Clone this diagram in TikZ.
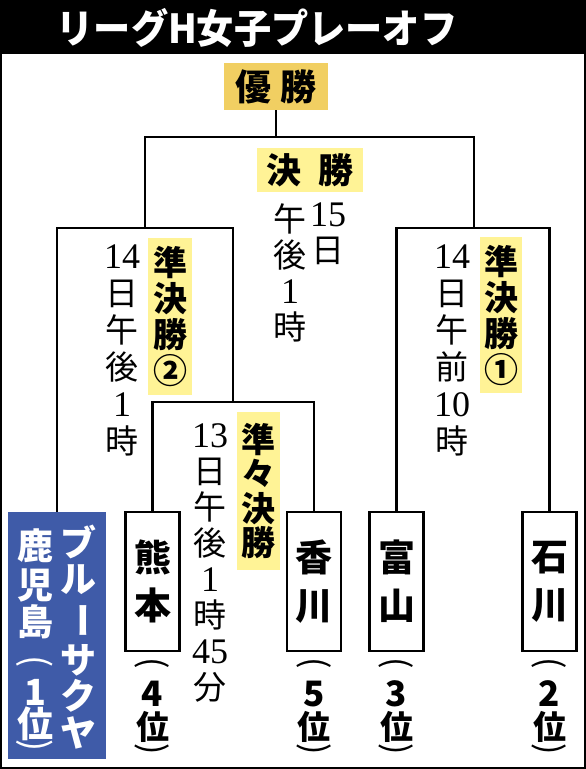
\documentclass[tikz,border=0pt]{standalone}
\usepackage{fontspec}
\newfontfamily\jp{Noto Sans CJK JP}
\newfontfamily\dgf{Liberation Serif}
\definecolor{gold}{RGB}{241,207,98}
\definecolor{lyel}{RGB}{255,243,150}
\definecolor{kblue}{RGB}{63,91,168}
\newcommand\sd[1]{{\dgf\fontsize{36}{37}\selectfont #1}}
\begin{document}
\begin{tikzpicture}[x=1pt,y=-1pt,
  conn/.style={draw=black, line width=2.2pt, line join=miter},
  titletext/.style={inner sep=0pt, text=white, font=\jp\bfseries\fontsize{40}{42}\selectfont},
  win/.style={fill=gold, minimum width=104pt, minimum height=47pt, inner sep=0pt, font=\jp\bfseries\fontsize{36}{40}\selectfont},
  lab/.style={fill=lyel, inner sep=0pt, font=\jp\bfseries\fontsize{34}{36}\selectfont, align=center},
  datea/.style={inner sep=0pt, anchor=north, align=center, font=\jp\fontsize{33}{36}\selectfont},
  dateb/.style={inner sep=0pt, anchor=north, align=center, font=\jp\fontsize{33}{37}\selectfont},
  team/.style={draw=black, line width=2.2pt, fill=white, minimum width=54pt, minimum height=139pt, inner sep=0pt, align=center, font=\jp\bfseries\fontsize{37}{48}\selectfont},
  rank/.style={inner sep=0pt, font=\jp\bfseries\fontsize{33}{36}\selectfont},
  rankp/.style={inner sep=0pt, font=\jp\fontsize{34}{36}\selectfont},
  rankd/.style={inner sep=0pt, font=\jp\bfseries\fontsize{35}{37}\selectfont},
  kw/.style={inner sep=0pt, text=white, font=\jp\bfseries\fontsize{36}{38}\selectfont},
  kp/.style={inner sep=0pt, text=white, font=\jp\fontsize{36}{38}\selectfont}
]
\useasboundingbox (0,0) rectangle (586,769);
% title bar and frame
\fill[black] (0,0) rectangle (586,54);
\draw[line width=2.2pt] (1.1,53) rectangle (584.9,767.9);
\node[titletext] (title) at (257,27.5) {\scalebox{0.93}[1]{リーグH女子プレーオフ}};

% winner and final labels
\node[win] (yusho) at (276,86.5) {優\hspace{10pt}勝};
\node[lab, minimum width=106pt, minimum height=44pt, font=\jp\bfseries\fontsize{35}{36}\selectfont] (kessho) at (310,170) {決\hspace{18pt}勝};
\node[lab, minimum width=44pt, minimum height=157pt] (sf2lab) at (170,316.5) {準\\決\\勝\\②};
\node[lab, minimum width=42pt, minimum height=156pt] (sf1lab) at (501,315) {準\\決\\勝\\①};
\node[lab, minimum width=43pt, minimum height=158pt, font=\jp\bfseries\fontsize{34}{34.5}\selectfont] (qflab) at (258.5,491) {準\\々\\決\\勝};

% dates
\node[datea] (fdl) at (290,203) {午\\後\\\sd{1}\\時};
\node[datea] (fdr) at (328,203) {\sd{15}\\日};
\node[dateb] (sf2d) at (122,245) {\sd{14}\\日\\午\\後\\\sd{1}\\時};
\node[dateb] (sf1d) at (452,245) {\sd{14}\\日\\午\\前\\\sd{10}\\時};
\node[datea] (qfd) at (210,423) {\sd{13}\\日\\午\\後\\\sd{1}\\時\\\sd{45}\\分};

% teams
\node[fill=kblue, minimum width=98pt, minimum height=247pt, inner sep=0pt] (kago) at (57,635.5) {};
\node[team] (kuma) at (152.5,581.5) {熊\\本};
\node[team] (kaga) at (314,581.5) {香\\川};
\node[team] (toya) at (396.5,581.5) {富\\山};
\node[team] (ishi) at (549.5,581.5) {石\\川};

% Kagoshima text
\foreach \c/\y [count=\i] in {ブ/542,ル/580,サ/660,ク/696,ヤ/733}
  \node[kw] (kr\i) at (78,\y) {\c};
\node[kw, rotate=-90] (krb) at (78,620) {ー};
\foreach \c/\y [count=\i] in {鹿/546,児/585,島/622,1/692,位/724}
  \node[kw] (kl\i) at (35,\y) {\c};
\node[kp, rotate=-90] (klo) at (35,662) {(};
\node[kp, rotate=-90] (klc) at (35,746) {)};

% ranks
\foreach \n/\x/\d in {kuma/152.5/4, kaga/314/5, toya/396.5/3, ishi/549.5/2}{
  \node[rankp, rotate=-90] (\n-o) at (\x,663) {(};
  \node[rankd] (\n-d) at (\x,694) {\d};
  \node[rank] (\n-w) at (\x,727) {位};
  \node[rankp, rotate=-90] (\n-c) at (\x,749) {)};
}

% connectors
\coordinate (fin) at (276,137);
\coordinate (sf2) at (145,228);
\coordinate (sf1) at (474,228);
\coordinate (qf) at (233,402);
\draw[conn] (yusho.south) -- (fin);
\draw[conn] (sf2) |- (fin) -| (sf1);
\draw[conn] (kago.north) |- (sf2) -| (qf);
\draw[conn] (kuma.north) |- (qf) -| (kaga.north);
\draw[conn] (toya.north) |- (sf1) -| (ishi.north);
\end{tikzpicture}
\end{document}
